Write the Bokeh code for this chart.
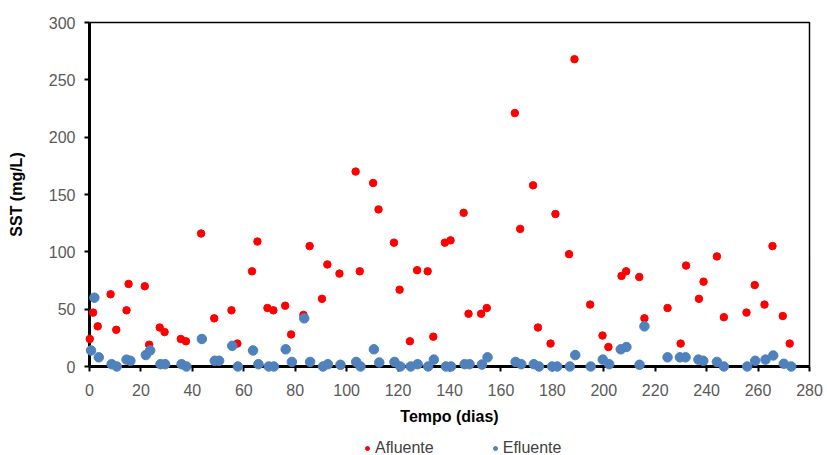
from bokeh.plotting import figure
from bokeh.models import Range1d, FixedTicker, Legend, LegendItem
from bokeh.embed import file_html
from bokeh.resources import INLINE

# ---- data ----
afl_x = [0.1, 1.4, 3.2, 8.2, 10.4, 14.4, 15.2, 21.5, 23.2, 27.3, 29.2, 35.5, 37.5, 43.4,
         48.5, 55.2, 57.5, 63.2, 65.3, 69.2, 71.5, 76.1, 78.4, 83.2, 85.6, 90.4, 92.5,
         97.2, 103.5, 105.1, 110.3, 112.4, 118.4, 120.6, 124.6, 127.4, 131.5, 133.7,
         138.2, 140.4, 145.5, 147.4, 152.3, 154.5, 165.4, 167.5, 172.5, 174.4, 179.3,
         181.2, 186.5, 188.6, 194.7, 199.5, 201.8, 206.9, 208.7, 213.8, 215.8, 224.8,
         229.9, 232.0, 237.0, 238.8, 244.0, 246.7, 255.5, 258.7, 262.5, 265.6, 269.6, 272.3]
afl_y = [24, 47, 35, 63, 32, 49, 72, 70, 19, 34, 30, 24, 22, 116,
         42, 49, 20, 83, 109, 51, 49, 53, 28, 45, 105, 59, 89,
         81, 170, 83, 160, 137, 108, 67, 22, 84, 83, 26,
         108, 110, 134, 46, 46, 51, 221, 120, 158, 34, 20,
         133, 98, 268, 54, 27, 17, 79, 83, 78, 42, 51,
         20, 88, 59, 74, 96, 43, 47, 71, 54, 105, 44, 20]

efl_x = [0.6, 1.9, 3.6, 8.6, 10.6, 14.4, 15.9, 21.9, 23.6, 27.6, 29.4, 35.8, 37.7, 43.7,
         48.7, 50.4, 55.5, 57.7, 63.6, 65.7, 69.7, 71.7, 76.3, 78.7, 83.5, 85.8, 90.8,
         92.7, 97.6, 103.7, 105.4, 110.6, 112.7, 118.6, 120.9, 124.9, 127.6, 131.7,
         133.9, 138.6, 140.6, 145.9, 147.8, 152.6, 154.8, 165.7, 167.9, 172.8, 174.8,
         179.9, 181.9, 186.8, 188.9, 194.9, 199.6, 202.1, 206.6, 208.8, 213.9, 215.8,
         224.8, 229.6, 231.8, 236.8, 238.7, 244.0, 246.7, 255.8, 258.9, 262.9, 265.9,
         270.0, 272.9]
efl_y = [14, 60, 8, 2, 0, 6, 5, 10, 14, 2, 2, 2, 0, 24,
         5, 5, 18, 0, 14, 2, 0, 0, 15, 4, 42, 4, 0,
         2, 1.5, 4, 0, 15, 3.5, 4, 0, 0, 2, 0,
         6, 0, 0, 2, 2, 1.7, 8, 4, 2, 2, 0,
         0, 0, 0, 10, 0, 6, 2, 15, 17, 1.5, 35,
         8, 8, 8, 6, 5, 4, 0, 0, 5, 6, 9.6,
         2.4, 0]

x_ticks = list(range(0, 281, 20))
y_ticks = list(range(0, 301, 50))
series_names = ["Afluente", "Efluente"]

FONT = "Liberation Sans"
TICK_COLOR = "#595959"

# ---- layout: the frame covers the whole canvas, axes are pinned at 0 ----
W, H = 827, 455
PLOT_L, PLOT_R, PLOT_T, PLOT_B = 89, 809, 22, 366
x0, x1 = x_ticks[0], x_ticks[-1]
y0, y1 = y_ticks[0], y_ticks[-1]
sx = (PLOT_R - PLOT_L) / (x1 - x0)
sy = (PLOT_B - PLOT_T) / (y1 - y0)
xr = Range1d(x0 - PLOT_L / sx, x1 + (W - PLOT_R) / sx)
yr = Range1d(y0 - (H - PLOT_B) / sy, y1 + PLOT_T / sy)

p = figure(frame_width=W, frame_height=H, x_range=xr, y_range=yr,
           output_backend="svg", toolbar_location=None,
           min_border=0, min_border_left=0, min_border_right=0,
           min_border_top=0, min_border_bottom=0,
           background_fill_color="white", border_fill_color="white")

p.xgrid.visible = False
p.ygrid.visible = False
p.outline_line_color = None

# top / right border of the plot area
p.line([x0, x1, x1], [y1, y1, y0], line_color="black", line_width=1.5)

r_afl = p.scatter(afl_x, afl_y, size=7.5, color="#FF0000", line_color="#FF0000", level="overlay")
r_efl = p.scatter(efl_x, efl_y, size=9.5, color="#4F81BD", line_color="#4F81BD", level="overlay")

for ax in (p.xaxis[0], p.yaxis[0]):
    ax.fixed_location = 0
    ax.axis_line_color = "black"
    ax.axis_line_width = 3
    ax.major_tick_line_color = "black"
    ax.major_tick_line_width = 2
    ax.major_tick_in = 0
    ax.major_tick_out = 5
    ax.minor_tick_line_color = None
    ax.major_label_text_font = FONT
    ax.major_label_text_font_size = "16px"
    ax.major_label_text_color = TICK_COLOR
    ax.axis_label_text_font = FONT
    ax.axis_label_text_font_size = "16px"
    ax.axis_label_text_font_style = "bold"
    ax.axis_label_text_color = "black"

p.xaxis[0].bounds = (x0, x1)
p.yaxis[0].bounds = (y0, y1)
p.xaxis[0].ticker = FixedTicker(ticks=x_ticks)
p.yaxis[0].ticker = FixedTicker(ticks=y_ticks)
p.xaxis[0].axis_label = "Tempo (dias)"
p.yaxis[0].axis_label = "SST (mg/L)"
p.xaxis[0].major_label_standoff = 12
p.xaxis[0].axis_label_standoff = 9
p.yaxis[0].major_label_standoff = 9
p.yaxis[0].axis_label_standoff = 21

legend = Legend(items=[LegendItem(label=series_names[0], renderers=[r_afl]),
                       LegendItem(label=series_names[1], renderers=[r_efl])],
                orientation="horizontal", location=(362, -2),
                border_line_color=None, background_fill_alpha=0,
                padding=0, margin=0, spacing=56,
                glyph_width=10, glyph_height=16, label_height=16, label_standoff=3,
                label_text_font=FONT, label_text_font_size="16px",
                label_text_color="#404040")
p.add_layout(legend)

open("out.html", "w").write(file_html(p, INLINE))
